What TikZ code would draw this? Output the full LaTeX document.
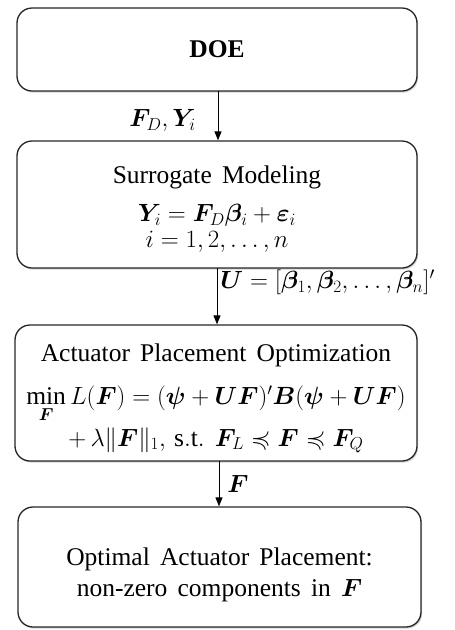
\documentclass[tikz,border=0pt]{standalone}
\usepackage{amsmath,amssymb,bm}
\usepackage{fontspec}
\setmainfont{Liberation Serif}
\usetikzlibrary{shadows,arrows.meta}
\newcommand\stagefont{\fontsize{25.5}{31}\selectfont\spaceskip=0.4em plus 0.1em\relax}
\begin{document}
\begin{tikzpicture}[x=1pt,y=1pt,
  stage/.style={draw=black!85, line width=1.3pt, rounded corners=15pt, fill=white,
    align=center, inner sep=0pt, font=\stagefont,
    drop shadow={opacity=0.35, shadow xshift=1.2pt, shadow yshift=-1.6pt}},
  flow/.style={-{Triangle[length=9pt,width=7pt]}, line width=0.9pt, black},
  lab/.style={font=\stagefont, inner sep=0pt}]
\useasboundingbox (0,0) rectangle (455,-630);
\node[stage, minimum width=400, minimum height=83] (doe) at (217,-49.5) {\textbf{DOE}};
\node[stage, minimum width=400, minimum height=127] (sur) at (217,-204.5)
  {\rule{0pt}{27pt}Surrogate Modeling\\[7pt]
   $\bm{Y}_{i}=\bm{F}_{D}\bm{\beta}_i+\bm{\varepsilon}_i$\\[-5pt]
   $i=1,2,\dots,n$};
\node[stage, minimum width=402, minimum height=136] (opt) at (216,-393)
  {\rule{0pt}{29pt}Actuator Placement Optimization\\[12pt]
   $\min\limits_{\bm{F}} L(\bm{F})=(\bm{\psi}+\bm{U}\bm{F})'\bm{B}(\bm{\psi}+\bm{U}\bm{F})$\\[3pt]
   $+\,\lambda\|\bm{F}\|_1,\,\mathrm{s.t.}\ \bm{F}_{L}\preccurlyeq\bm{F}\preccurlyeq\bm{F}_{Q}$};
\node[stage, minimum width=403, minimum height=120] (res) at (219.5,-567)
  {\rule{0pt}{34pt}Optimal Actuator Placement:\\ non-zero components in $\bm{F}$};
\coordinate (a1) at (218,-91);
\draw[flow] (a1) -- (a1 |- sur.north) node[lab, pos=0.6, left=22pt] {$\bm{F}_{D},\bm{Y}_{i}$};
\coordinate (a2) at (217,-268);
\draw[flow] (a2) -- (a2 |- opt.north) node[lab, pos=0.25, right=3pt] {$\bm{U}=[\bm{\beta}_1,\bm{\beta}_2,\dots,\bm{\beta}_n]'$};
\coordinate (a3) at (219,-461);
\draw[flow] (a3) -- (a3 |- res.north) node[lab, midway, right=8pt] {$\bm{F}$};
\end{tikzpicture}
\end{document}
